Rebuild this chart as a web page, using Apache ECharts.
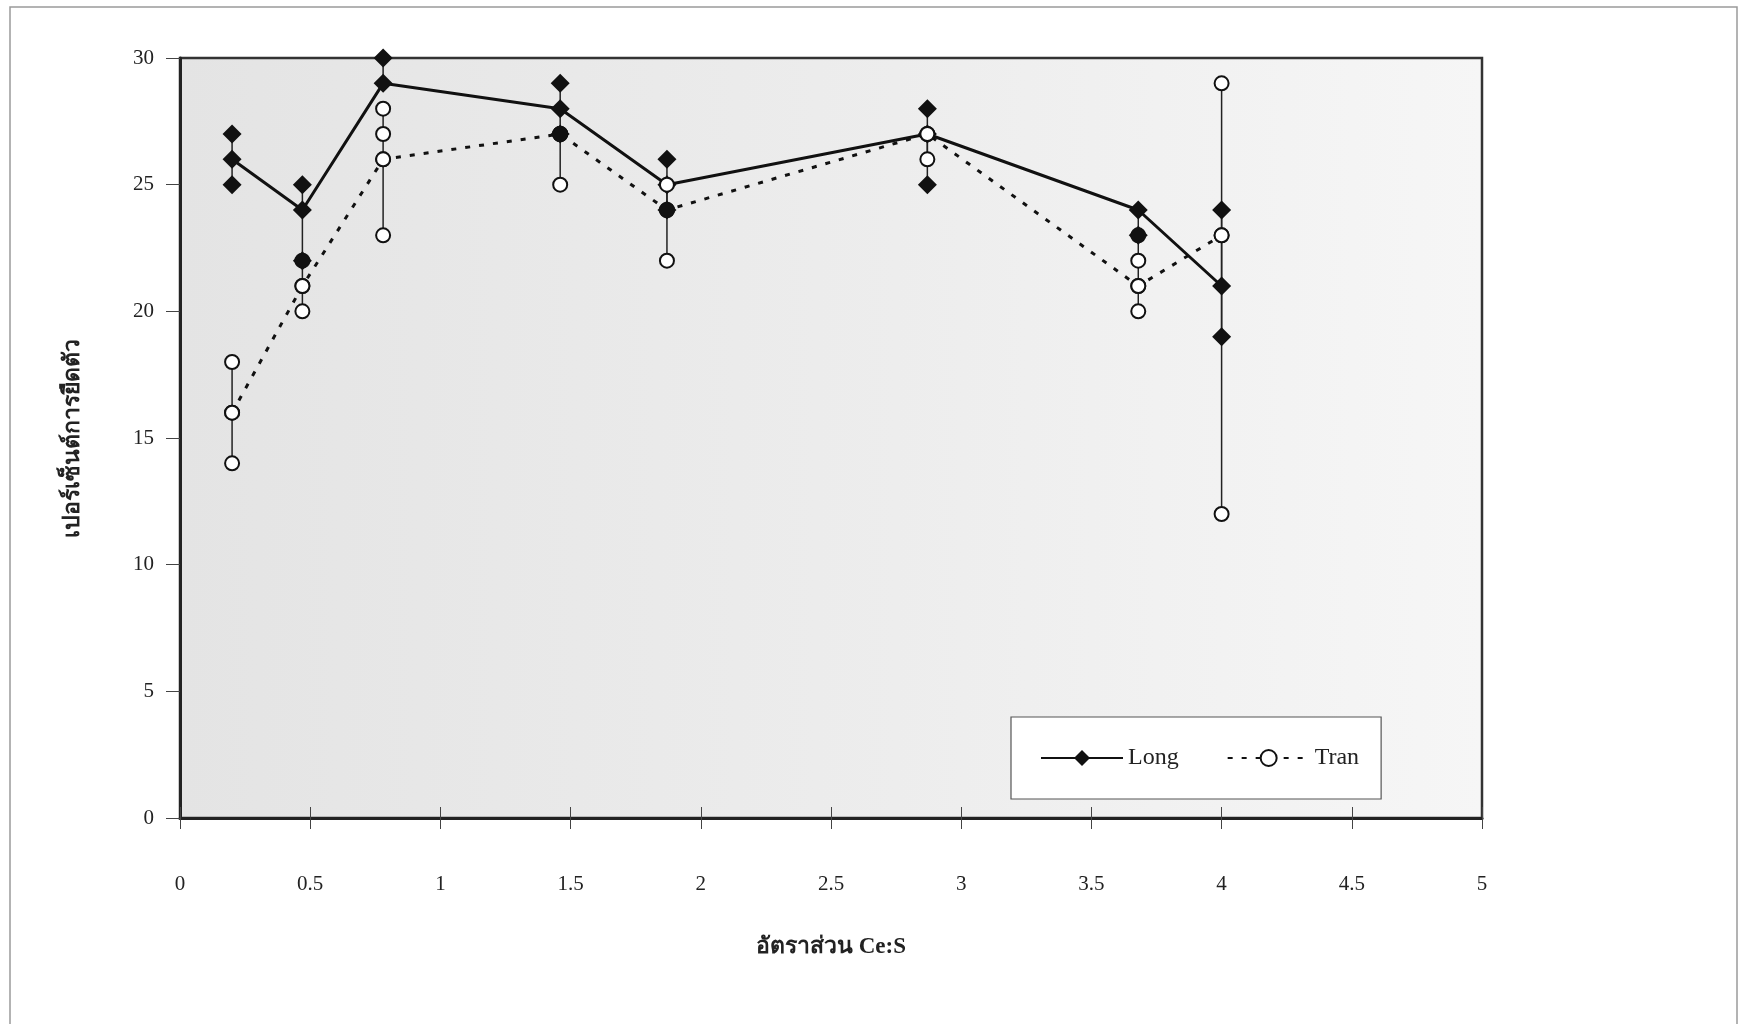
<!DOCTYPE html>
<html>
<head>
<meta charset="utf-8">
<script src="https://cdn.jsdelivr.net/npm/echarts@6/dist/echarts.min.js"></script>
<style>
html,body{margin:0;padding:0;background:#fff;}
#chart{width:1739px;height:1024px;}
</style>
</head>
<body>
<div id="chart"></div>
<script>
// Ce:S ratios
const xVals = [0.2, 0.47, 0.78, 1.46, 1.87, 2.87, 3.68, 4.0];
// Long: mean values (line) and individual values
const longMean = [26, 24, 29, 28, 25, 27, 24, 21];
const longSamples = [[27, 25], [25, 22], [30], [29, 27], [26, 24], [28, 25], [23], [24, 19]];
// Tran: mean values (line) and individual values
const tranMean = [16, 21, 26, 27, 24, 27, 21, 23];
const tranSamples = [[18, 14], [22, 20], [28, 27, 23], [27, 25], [25, 22], [26], [23, 22, 20], [29, 12]];
// ticks
const xTicks = [0, 0.5, 1, 1.5, 2, 2.5, 3, 3.5, 4, 4.5, 5];
const yTicks = [0, 5, 10, 15, 20, 25, 30];
const xTitle = 'อัตราส่วน Ce:S';
const yTitle = 'เปอร์เซ็นต์การยืดตัว';

const serif = '"Liberation Serif", "DejaVu Serif", serif';

function meanPts(means) { return xVals.map((x, i) => [x, means[i]]); }
function samplePts(samples) {
  const out = [];
  xVals.forEach((x, i) => samples[i].forEach(v => out.push([x, v])));
  return out;
}
function rangePts(means, samples) {
  return xVals.map((x, i) => {
    const all = samples[i].concat([means[i]]);
    return [x, Math.min.apply(null, all), Math.max.apply(null, all)];
  });
}
function errRender(params, api) {
  const x = api.value(0);
  const p1 = api.coord([x, api.value(1)]);
  const p2 = api.coord([x, api.value(2)]);
  return { type: 'line', shape: { x1: p1[0], y1: p1[1], x2: p2[0], y2: p2[1] },
           style: { stroke: '#222', lineWidth: 1.5 } };
}

const chart = echarts.init(document.getElementById('chart'), null, { renderer: 'canvas' });
const option = {
  animation: false,
  backgroundColor: '#fff',
  graphic: [
    { type: 'rect', shape: { x: 10, y: 7, width: 1727, height: 1030 },
      style: { fill: 'none', stroke: '#9a9a9a', lineWidth: 1.5 }, z: -1 }
  ],
  grid: {
    left: 180, right: 257, top: 58, bottom: 206,
    show: true,
    borderColor: '#333', borderWidth: 2.5,
    backgroundColor: { type: 'linear', x: 0, y: 0, x2: 1, y2: 0,
      colorStops: [{ offset: 0, color: '#e4e4e4' }, { offset: 0.55, color: '#ededed' }, { offset: 1, color: '#f6f6f6' }] }
  },
  legend: {
    left: 1011, top: 717,
    padding: [29, 22, 29, 29],
    itemGap: 48, itemWidth: 82, itemHeight: 20,
    backgroundColor: '#fff', borderColor: '#555', borderWidth: 1.2,
    textStyle: { fontFamily: serif, fontSize: 24, color: '#222' },
    data: ['Long', 'Tran']
  },
  xAxis: [{
    type: 'value', min: 0, max: 5, interval: 0.5,
    axisLine: { show: true, onZero: false, lineStyle: { color: '#222', width: 3 } },
    axisTick: { show: true, inside: false, length: 11, lineStyle: { color: '#444', width: 1 } },
    axisLabel: { margin: 56, fontFamily: serif, fontSize: 21, color: '#222',
      formatter: v => String(xTicks[Math.round(v * 2)]) },
    splitLine: { show: false },
    name: xTitle, nameLocation: 'middle', nameGap: 118,
    nameTextStyle: { fontFamily: serif, fontSize: 23, fontWeight: 'bold', color: '#222' }
  }, {
    type: 'value', min: 0, max: 5, interval: 0.5, position: 'bottom',
    axisLine: { show: false, onZero: false },
    axisTick: { show: true, inside: true, length: 11, lineStyle: { color: '#444', width: 1 } },
    axisLabel: { show: false }, splitLine: { show: false }
  }],
  yAxis: {
    type: 'value', min: 0, max: 30, interval: 5,
    axisLine: { show: true, onZero: false, lineStyle: { color: '#222', width: 3 } },
    axisTick: { show: true, inside: false, length: 14, lineStyle: { color: '#444', width: 1 } },
    axisLabel: { margin: 26, fontFamily: serif, fontSize: 21, color: '#222',
      formatter: v => String(yTicks[Math.round(v / 5)]) },
    splitLine: { show: false },
    name: yTitle, nameLocation: 'middle', nameGap: 95, nameRotate: 90,
    nameTextStyle: { fontFamily: serif, fontSize: 23, fontWeight: 'bold', color: '#222' }
  },
  series: [
    { name: 'TranErr', type: 'custom', renderItem: errRender, data: rangePts(tranMean, tranSamples),
      encode: { x: 0, y: [1, 2] }, z: 1, silent: true },
    { name: 'LongErr', type: 'custom', renderItem: errRender, data: rangePts(longMean, longSamples),
      encode: { x: 0, y: [1, 2] }, z: 1, silent: true },
    { name: 'Tran', type: 'line', data: meanPts(tranMean), z: 2,
      symbol: 'circle', symbolSize: 14, showSymbol: true,
      lineStyle: { color: '#111', width: 3, type: [5, 9] },
      itemStyle: { color: '#fff', borderColor: '#111', borderWidth: 2, opacity: 1 } },
    { name: 'Long', type: 'line', data: meanPts(longMean), z: 3,
      symbol: 'diamond', symbolSize: 19, showSymbol: true,
      lineStyle: { color: '#111', width: 3 },
      itemStyle: { color: '#111', borderColor: '#111', borderWidth: 0, opacity: 1 } },
    { name: 'TranPts', type: 'scatter', data: samplePts(tranSamples).concat(meanPts(tranMean)), z: 4,
      symbol: 'circle', symbolSize: 14, clip: false,
      itemStyle: { color: '#fff', borderColor: '#111', borderWidth: 2, opacity: 1 } },
    { name: 'LongPts', type: 'scatter', data: samplePts(longSamples), z: 5,
      symbol: 'diamond', symbolSize: 19, clip: false,
      itemStyle: { color: '#111', opacity: 1 } }
  ]
};
chart.setOption(option);
</script>
</body>
</html>
